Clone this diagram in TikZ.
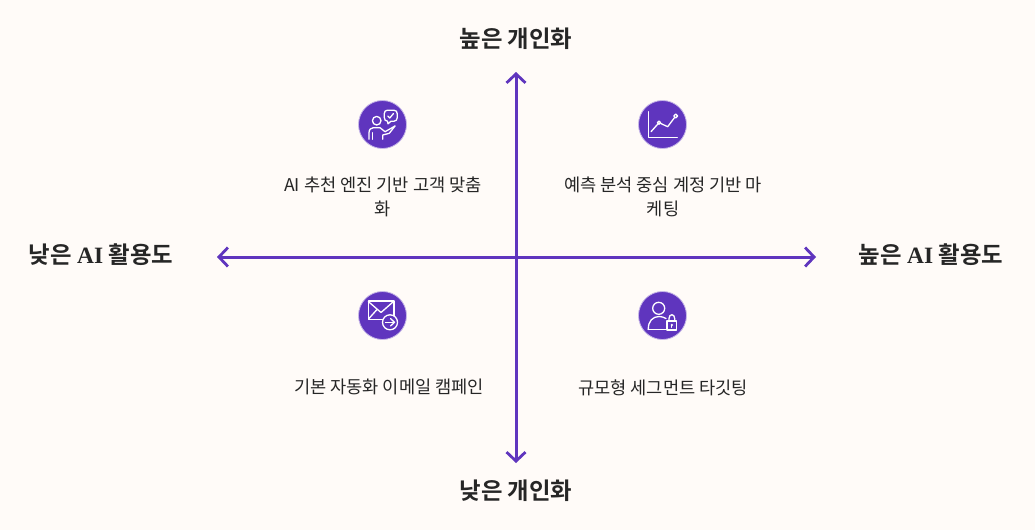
\documentclass[tikz,border=0pt]{standalone}
\usepackage{fontspec}
\setmainfont{Noto Sans CJK KR}
\newfontfamily\hdfont{Noto Sans CJK KR}[BoldFont={Noto Sans CJK KR Bold}]
\newfontfamily\latinhd{Liberation Serif}
\usetikzlibrary{arrows.meta}
\definecolor{bgc}{HTML}{FFFBF8}
\definecolor{purp}{HTML}{5F35BE}
\definecolor{ink}{HTML}{262626}
\tikzset{
  axisline/.style={draw=purp,line width=3pt,{Straight Barb[length=9pt,width=19pt,line width=2.8pt]}-{Straight Barb[length=9pt,width=19pt,line width=2.8pt]}},
  badge/.style={circle,fill=purp,draw=purp!35,line width=0.8pt,minimum size=48pt,inner sep=0pt},
  ic/.style={draw=white,line width=1.3pt,line cap=round,line join=round},
  lbl/.style={font=\fontsize{17.6pt}{24pt}\selectfont,text=ink,align=center,inner sep=0pt},
  hd/.style={font=\hdfont\bfseries\fontsize{23.4pt}{26pt}\selectfont,text=ink,align=center,inner sep=0pt}
}
\begin{document}
\begin{tikzpicture}[x=1pt,y=-1pt]
\fill[bgc] (0,0) rectangle (1035,530);
\useasboundingbox (0,0) rectangle (1035,530);
% axes
\coordinate (xl) at (217,257);
\coordinate (xr) at (816,257);
\coordinate (yt) at (516,72);
\coordinate (yb) at (516,463);
\draw[axisline] (xl) -- (xr);
\draw[axisline] (yt) -- (yb);
% badges
\node[badge] (b1) at (382.5,124.5) {};
\node[badge] (b2) at (662.5,124.5) {};
\node[badge] (b3) at (382.5,315.5) {};
\node[badge] (b4) at (662.5,315.5) {};
% icon 1: person with speech bubble
\draw[ic] (376.7,120.7) circle (4.3);
\draw[ic] (369,139.3) -- (369,132.7) .. controls (369,129.5) and (371,127.7) .. (373.3,127.7) -- (380,127.7) -- (385,131.7) -- (389.3,129.3) -- (395,126);
\draw[ic] (372.3,139.3) -- (372.3,132.7);
\draw[ic] (382.7,139.3) -- (382.7,135) -- (389.3,133.3) -- (395,126);
\draw[ic] (387.5,110.2) -- (394,110.2) .. controls (396.2,110.2) and (397.3,111.8) .. (397.3,114) -- (397.3,117.5) .. controls (397.3,119.8) and (396,121.2) .. (394,121.2) -- (391,121.2) -- (388,123.8) -- (387.5,121.2) .. controls (385.5,121.2) and (384.3,119.8) .. (384.3,117.5) -- (384.3,113.5) .. controls (384.3,111.5) and (385.5,110.2) .. (387.5,110.2) -- cycle;
\draw[ic] (387.8,116) -- (389.8,118) -- (393.5,113.5);
% icon 2: chart
\draw[ic] (648.3,111.7) -- (648.3,137.7) -- (677.3,137.7);
\draw[ic] (651,131.7) -- (659,122.7) -- (667.7,126.7) -- (675.7,116);
\draw[ic,fill=purp] (659,122.7) circle (1.6);
\draw[ic,fill=purp] (675.7,116) circle (1.9);
% icon 3: envelope with arrow
\draw[ic] (368.3,301) rectangle (394,319.3);
\draw[ic] (368.3,301.5) -- (381,312.5) -- (393.5,301.5);
\draw[ic] (368.5,319) -- (377,309.5);
\draw[ic,fill=purp] (390,322.3) circle (7.5);
\draw[ic] (385.5,322.3) -- (394.5,322.3);
\draw[ic] (390.5,318.5) -- (394.5,322.3) -- (390.5,326);
% icon 4: person with lock
\draw[ic] (658.7,308.3) circle (6);
\draw[ic] (648.3,329.5) .. controls (648,321) and (653,316.5) .. (659,316.5) .. controls (661.5,316.5) and (664,317.2) .. (666,318.5);
\draw[ic] (648.3,329.5) -- (666.5,329.5);
\draw[ic] (669,321) -- (669,318.5) .. controls (669,313.5) and (674.7,313.5) .. (674.7,318.5) -- (674.7,321);
\draw[ic,fill=purp] (667,321) rectangle (676.7,330);
\fill[white] (671.85,325) circle (1.3);
\draw[ic,line width=.8pt] (671.85,325) -- (671.85,327.5);
% labels
\node[lbl] (t1a) at (383,184.7) {AI 추천 엔진 기반 고객 맞춤};
\node[lbl] (t1b) at (383,208.7) {화};
\node[lbl] (t2a) at (663,184.7) {예측 분석 중심 계정 기반 마};
\node[lbl] (t2b) at (663,208.7) {케팅};
\node[lbl] (t3) at (389,386.7) {기본 자동화 이메일 캠페인};
\node[lbl] (t4) at (663,387.7) {규모형 세그먼트 타깃팅};
\node[hd] (h1) at (516,38.5) {높은 개인화};
\node[hd] (h2) at (516,490.5) {낮은 개인화};
\node[hd] (h3) at (101,254.5) {낮은 {\latinhd AI} 활용도};
\node[hd] (h4) at (931,254.5) {높은 {\latinhd AI} 활용도};
\end{tikzpicture}
\end{document}
